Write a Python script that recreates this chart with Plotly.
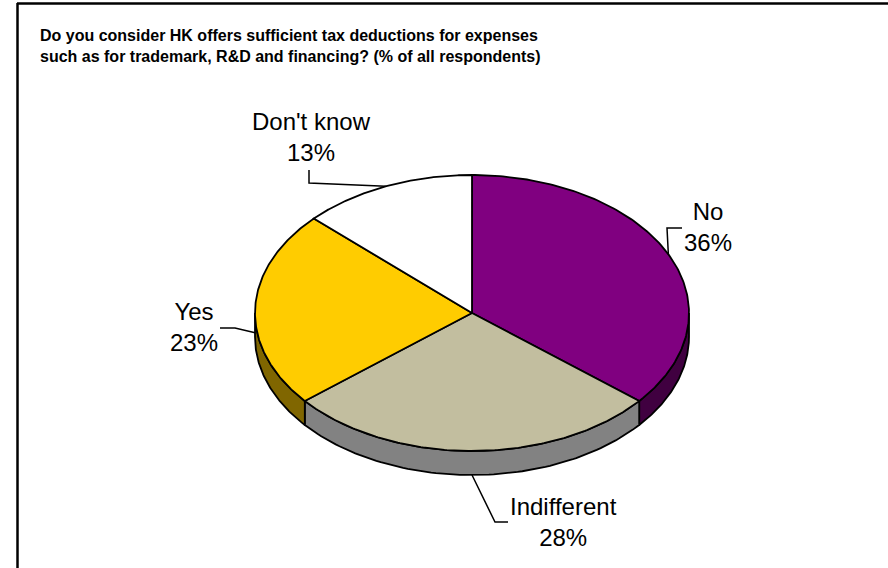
import numpy as np
import plotly.graph_objects as go

# Survey answers, clockwise from 12 o'clock
categories = ["No", "Indifferent", "Yes", "Don't know"]
shares = [36, 28, 23, 13]

title_lines = [
    "Do you consider HK offers sufficient tax deductions for expenses",
    "such as for trademark, R&D and financing? (% of all respondents)",
]

top_colors = ["#800080", "#C2BE9F", "#FFCC00", "#FFFFFF"]
side_colors = ["#400040", "#828282", "#806600", "#808080"]

# Tilted-pie geometry in page pixels
CX, CY, RX, RY, DEPTH = 472, 313, 217, 138, 24

# Label block centres and leader elbow/end points per slice
label_pos = [(708, 227), (563, 522), (194, 327), (311, 137)]
leader_route = [
    [(667, 228), (682, 228)],
    [(495, 522), (508, 522)],
    [(235, 328), (220, 328)],
    [(309, 183), (309, 170)],
]

FONT = "Arial, Liberation Sans, sans-serif"


def rim(theta_deg, drop=0.0):
    t = np.radians(theta_deg)
    return CX + RX * np.sin(t), CY - RY * np.cos(t) + drop


fig = go.Figure()

total = float(sum(shares))
bounds = np.concatenate([[0.0], np.cumsum(shares) / total * 360.0])

# Visible outer walls (front half of the disc)
for i in range(len(shares)):
    a, b = bounds[i], bounds[i + 1]
    s, e = max(a, 90.0), min(b, 270.0)
    if e <= s:
        continue
    th = np.linspace(s, e, 80)
    xt, yt = rim(th)
    xb, yb = rim(th[::-1], DEPTH)
    fig.add_trace(go.Scatter(
        x=np.concatenate([xt, xb, xt[:1]]),
        y=np.concatenate([yt, yb, yt[:1]]),
        mode="lines", fill="toself", fillcolor=side_colors[i],
        line=dict(color="black", width=1.8), hoverinfo="skip",
    ))

# Top faces
for i in range(len(shares)):
    a, b = bounds[i], bounds[i + 1]
    th = np.linspace(a, b, 160)
    xt, yt = rim(th)
    fig.add_trace(go.Scatter(
        x=np.concatenate([[CX], xt, [CX]]),
        y=np.concatenate([[CY], yt, [CY]]),
        mode="lines", fill="toself", fillcolor=top_colors[i],
        line=dict(color="black", width=1.8),
        name=categories[i], hoverinfo="name",
    ))

# Leader lines and data labels
annotations = []
for i in range(len(shares)):
    mid = (bounds[i] + bounds[i + 1]) / 2.0
    drop = DEPTH if 85.0 <= mid <= 275.0 else 0.0
    ax, ay = rim(mid, drop)
    pts = [(ax, ay)] + leader_route[i]
    fig.add_trace(go.Scatter(
        x=[p[0] for p in pts], y=[p[1] for p in pts],
        mode="lines", line=dict(color="black", width=1.5), hoverinfo="skip",
    ))
    lx, ly = label_pos[i]
    annotations.append(dict(
        x=lx, y=ly, xref="x", yref="y", showarrow=False,
        text=f"{categories[i]}<br>{shares[i]}%",
        xanchor="center", yanchor="middle", align="center",
        font=dict(family=FONT, size=24, color="black"),
    ))

annotations.append(dict(
    x=38, y=46, xref="x", yref="y", showarrow=False,
    text="<b>" + "<br>".join(title_lines) + "</b>",
    xanchor="left", yanchor="middle", align="left",
    font=dict(family=FONT, size=16, color="black"),
))

fig.update_layout(
    width=888, height=568,
    margin=dict(l=0, r=0, t=0, b=0),
    paper_bgcolor="white", plot_bgcolor="white",
    showlegend=False,
    xaxis=dict(range=[0, 888], visible=False, fixedrange=True),
    yaxis=dict(range=[568, 0], visible=False, fixedrange=True),
    annotations=annotations,
    shapes=[
        dict(type="line", xref="x", yref="y", x0=17, x1=888, y0=3.5, y1=3.5,
             line=dict(color="black", width=2.5)),
        dict(type="line", xref="x", yref="y", x0=17.5, x1=17.5, y0=3, y1=568,
             line=dict(color="black", width=2.5)),
    ],
)

fig.write_html("out.html")
